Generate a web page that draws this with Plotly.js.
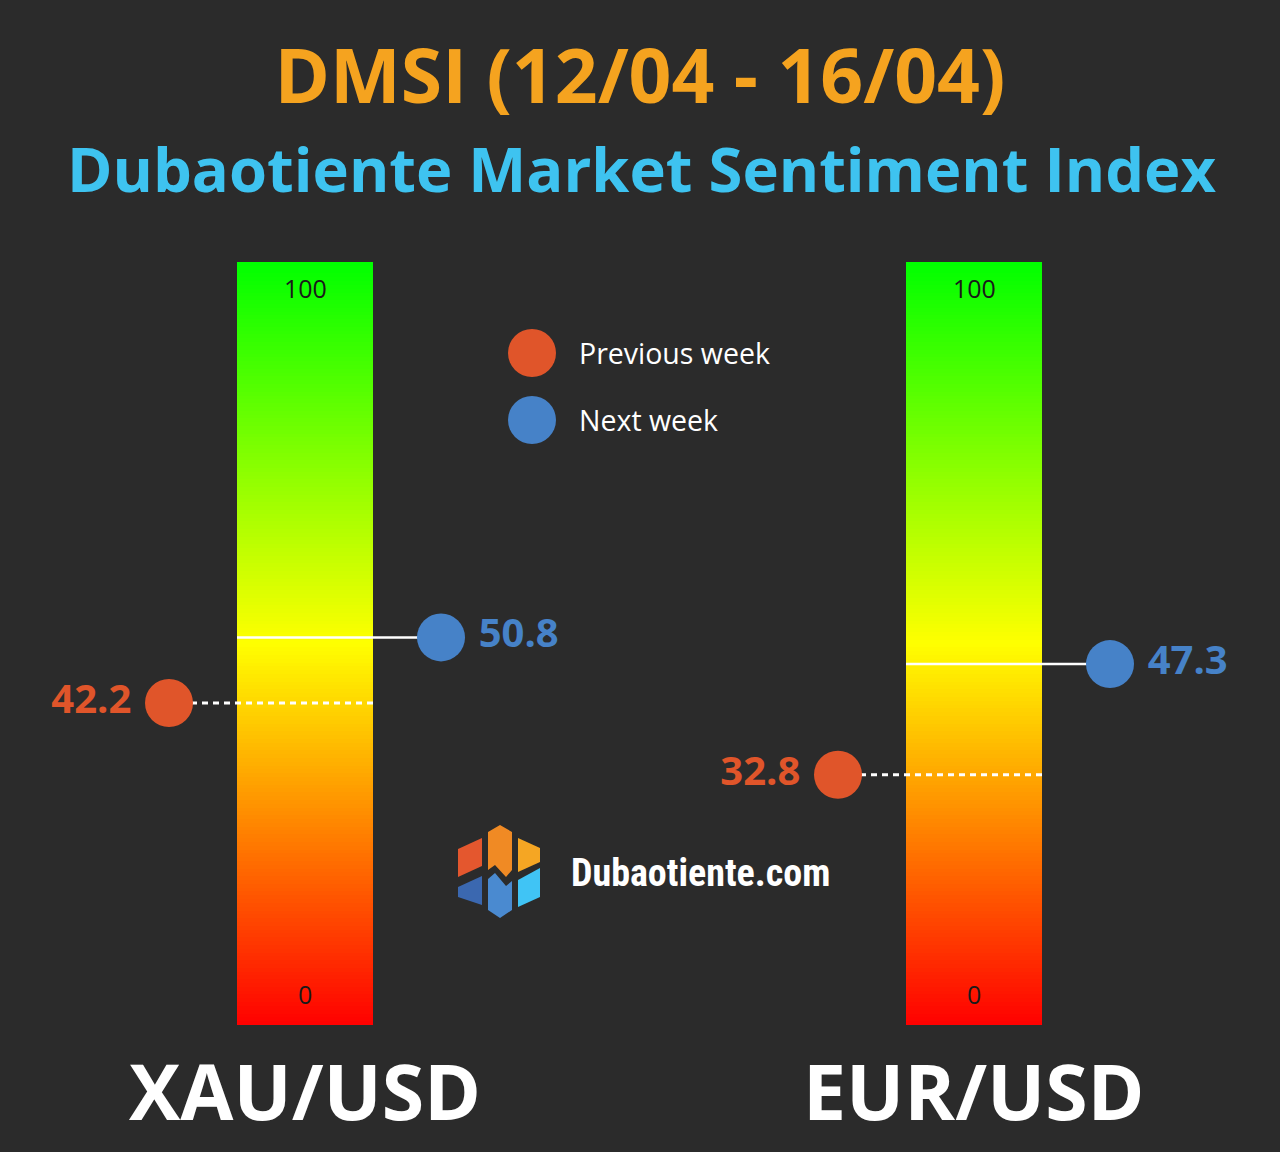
<!DOCTYPE html>
<html>
<head>
<meta charset="utf-8">
<script src="https://cdn.plot.ly/plotly-3.0.1.min.js"></script>
<style>html,body{margin:0;padding:0;background:#2b2b2b;}#chart{width:1280px;height:1152px;}</style>
</head>
<body>
<div id="chart"></div>
<script>
// ---- data ----
const instruments = ['XAU/USD', 'EUR/USD'];
const previousWeek = [42.2, 32.8];
const nextWeek = [50.8, 47.3];
const scaleTicks = [0, 100];
const seriesNames = ['Previous week', 'Next week'];
const titleText = 'DMSI (12/04 - 16/04)';
const subtitleText = 'Dubaotiente Market Sentiment Index';
const brandText = 'Dubaotiente.com';

// ---- layout constants (pixels) ----
const W = 1280, H = 1152;
const BG = '#2b2b2b';
const ORANGE = '#e0552a', BLUE = '#4682c8';
const barCenters = [305, 974];
const barHalf = 68;
const markerOffset = 136;
const yPx0 = 1025, pxPerUnit = 7.63;           // value 0 at y=1025px, 100 at 262px
const toY = py => (yPx0 - py) / pxPerUnit;       // pixel row -> value axis
const yRange = [toY(H), toY(0)];

const traces = [];

// gradient columns
const gradEdges = [];
for (let v = 0; v <= 100; v += 0.5) gradEdges.push(v);
const gradZ = gradEdges.slice(0, -1).map(v => [v + 0.25]);
barCenters.forEach(c => {
  traces.push({
    type: 'heatmap', x: [c - barHalf, c + barHalf], y: gradEdges, z: gradZ,
    zmin: 0, zmax: 100, showscale: false, hoverinfo: 'skip',
    colorscale: [[0, '#ff0000'], [0.5, '#ffff00'], [1, '#00ff00']]
  });
});

// connector lines
instruments.forEach((name, i) => {
  const c = barCenters[i];
  traces.push({
    type: 'scatter', mode: 'lines', showlegend: false, hoverinfo: 'skip',
    x: [c - barHalf, c + markerOffset], y: [nextWeek[i], nextWeek[i]],
    line: {color: '#ffffff', width: 2.5}
  });
  traces.push({
    type: 'scatter', mode: 'lines', showlegend: false, hoverinfo: 'skip',
    x: [c - markerOffset, c + barHalf], y: [previousWeek[i], previousWeek[i]],
    line: {color: '#ffffff', width: 3, dash: '6px,5px'}
  });
});

const valFont = {family: 'Open Sans, sans-serif', size: 40, weight: 700};

traces.push({
  type: 'scatter', mode: 'markers+text', name: seriesNames[0], showlegend: false,
  x: barCenters.map(c => c - markerOffset), y: previousWeek,
  text: previousWeek.map(v => v.toFixed(1) + '\u2009'), textposition: 'middle left',
  textfont: Object.assign({color: ORANGE}, valFont),
  marker: {size: 48, color: ORANGE}
});
traces.push({
  type: 'scatter', mode: 'markers+text', name: seriesNames[1], showlegend: false,
  x: barCenters.map(c => c + markerOffset), y: nextWeek,
  text: nextWeek.map(v => '\u2009' + v.toFixed(1)), textposition: 'middle right',
  textfont: Object.assign({color: BLUE}, valFont),
  marker: {size: 48, color: BLUE}
});

// legend drawn in the plot
traces.push({
  type: 'scatter', mode: 'markers', showlegend: false, hoverinfo: 'skip',
  x: [532, 532], y: [toY(353), toY(420)],
  marker: {size: 48, color: [ORANGE, BLUE]}
});

const annotations = [];
seriesNames.forEach((s, i) => {
  annotations.push({x: 577, y: toY([353, 420][i]), xref: 'x', yref: 'y', xanchor: 'left', yanchor: 'middle',
    text: s, showarrow: false,
    font: {family: 'Open Sans, sans-serif', size: 28.5, color: '#ffffff'}});
});
barCenters.forEach((c, i) => {
  annotations.push({x: c, y: scaleTicks[1], xref: 'x', yref: 'y', yanchor: 'middle', yshift: -26,
    text: String(scaleTicks[1]), showarrow: false,
    font: {family: 'Open Sans, sans-serif', size: 25, color: '#1a1a1a'}});
  annotations.push({x: c, y: scaleTicks[0], xref: 'x', yref: 'y', yanchor: 'middle', yshift: 31,
    text: String(scaleTicks[0]), showarrow: false,
    font: {family: 'Open Sans, sans-serif', size: 25, color: '#1a1a1a'}});
  annotations.push({x: c, y: toY(1090), xref: 'x', yref: 'y', yanchor: 'middle',
    text: instruments[i], showarrow: false,
    font: {family: 'Open Sans, sans-serif', size: 77, weight: 700, color: '#ffffff'}});
});
annotations.push({x: W / 2 + 1, y: toY(168), xref: 'x', yref: 'y', yanchor: 'middle',
  text: subtitleText, showarrow: false,
  font: {family: 'Open Sans, sans-serif', size: 61.5, weight: 700, color: '#3ec3f0'}});
annotations.push({x: 569, y: toY(873), xref: 'x', yref: 'y', xanchor: 'left', yanchor: 'middle',
  text: brandText, showarrow: false,
  font: {family: 'Liberation Sans Narrow, Roboto Condensed, Roboto, sans-serif', size: 38, weight: 700, color: '#ffffff'}});

// logo icon
const P = pts => 'M' + pts.map(p => p[0] + ',' + toY(p[1])).join(' L') + ' Z';
const iconParts = [
  {c: '#e4572e', p: [[458,849],[482,838],[482,866],[458,877]]},
  {c: '#3b68b0', p: [[458,887],[482,876],[482,905],[458,897]]},
  {c: '#f08a24', p: [[488,832],[500,825],[512,832],[512,870],[506,877],[495,865],[488,870]]},
  {c: '#4a8ad0', p: [[488,879],[495,873],[506,886],[512,881],[512,910],[500,918],[488,910]]},
  {c: '#f5a623', p: [[518,838],[540,848],[540,862],[518,872]]},
  {c: '#40c4f5', p: [[518,880],[540,868],[540,897],[518,907]]}
];
const shapes = iconParts.map(s => ({type: 'path', xref: 'x', yref: 'y', path: P(s.p),
  fillcolor: s.c, line: {width: 0}, layer: 'above'}));

const layout = {
  width: W, height: H,
  margin: {l: 0, r: 0, t: 0, b: 0},
  paper_bgcolor: BG, plot_bgcolor: BG,
  showlegend: false,
  title: {text: titleText, x: 0.5, xanchor: 'center', y: 1 - 77 / H, yanchor: 'middle', yref: 'paper',
    font: {family: 'Open Sans, sans-serif', size: 75, weight: 700, color: '#f5a31f'}},
  xaxis: {range: [0, W], visible: false, fixedrange: true},
  yaxis: {range: yRange, visible: false, fixedrange: true},
  annotations: annotations,
  shapes: shapes
};

Plotly.newPlot('chart', traces, layout, {staticPlot: true, displayModeBar: false});
</script>
</body>
</html>
